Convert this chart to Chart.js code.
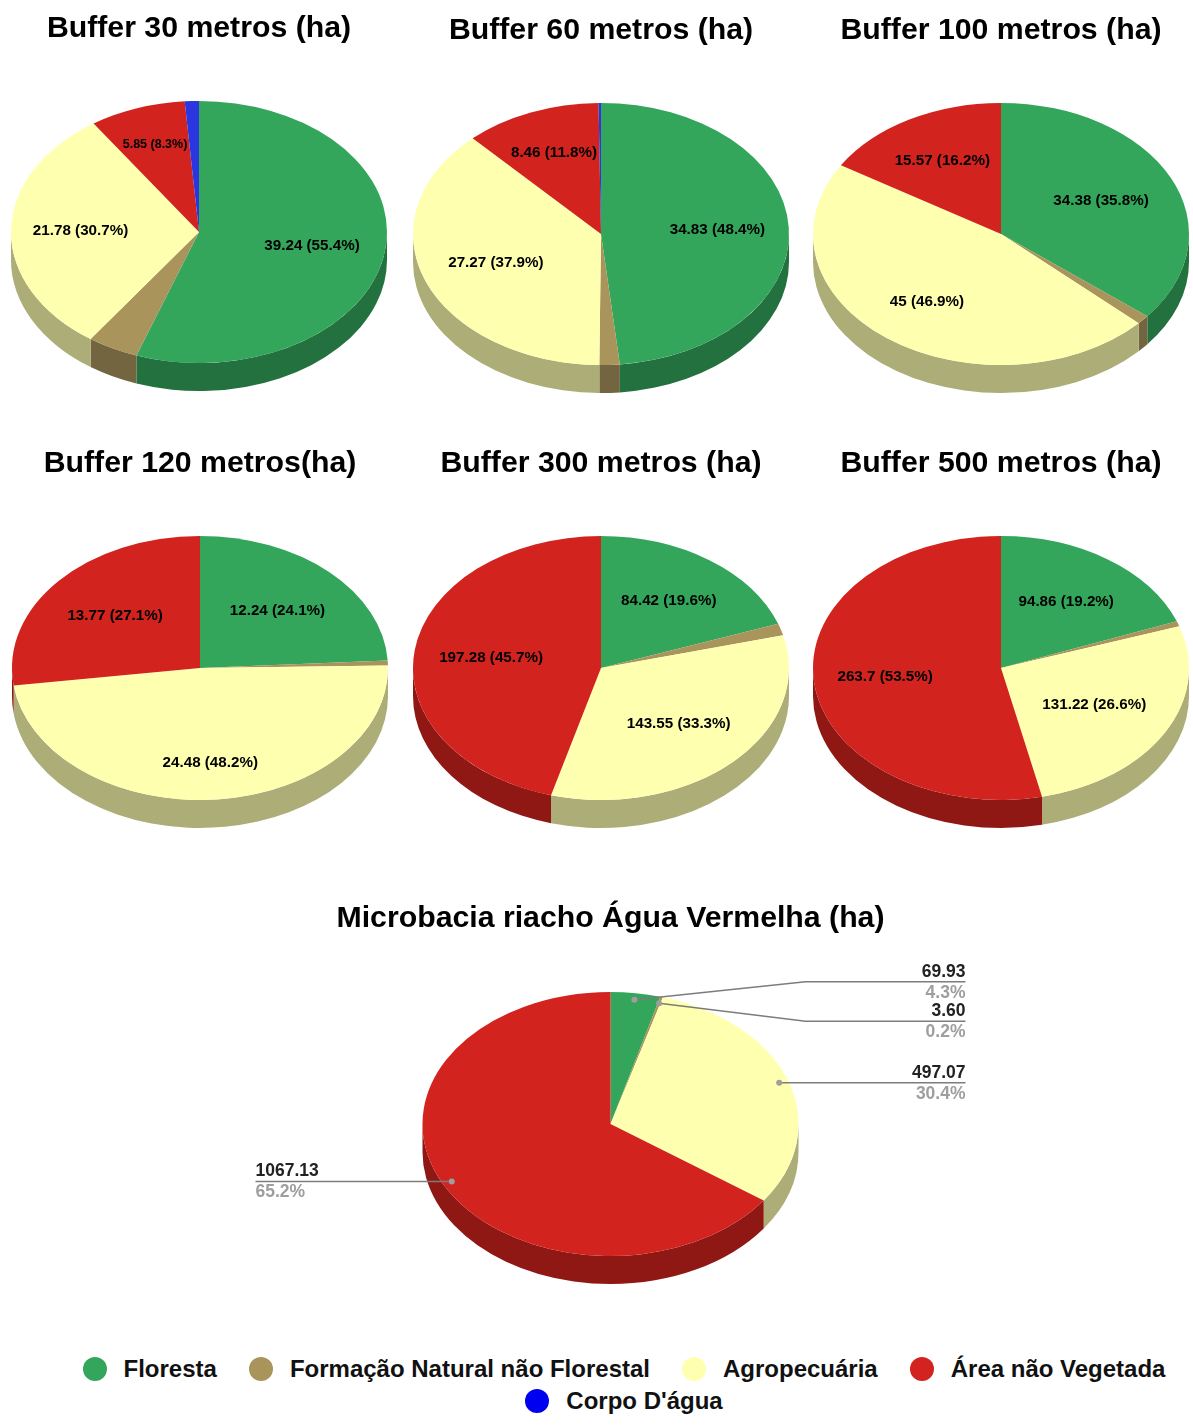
<!DOCTYPE html>
<html lang="pt">
<head>
<meta charset="utf-8">
<title>Uso do solo por buffer</title>
<script src="https://cdn.jsdelivr.net/npm/chart.js@4"></script>
<style>
    body { margin: 0; background: #fff; }
    #pagina { position: relative; width: 1193px; height: 1428px; overflow: hidden; }
    canvas { position: absolute; }
    #legenda {
        position: absolute; left: 55px; top: 1353px; width: 1138px;
        display: flex; flex-wrap: wrap; justify-content: center;
        font: bold 24px "Liberation Sans", Arial, sans-serif; color: #111; line-height: 32px;
    }
    #legenda div { display: flex; align-items: center; margin: 0 16px; }
    #legenda span { width: 24px; height: 24px; border-radius: 50%; margin-right: 17px; }
</style>
</head>
<body>
<div id="pagina">
    <div id="legenda"></div>
</div>
<script>
// ordem das fatias: Floresta, Formacao, Agropecuaria, Area nao Vegetada, Corpo d'agua
const categorias = ["Floresta", "Formação Natural não Florestal", "Agropecuária", "Área não Vegetada", "Corpo D'água"];
const cores = ["#34a65b", "#a9945c", "#ffffb0", "#d2231f", "#2a36e0"];
const corLegendaAgua = "#0000f0";

const buffer30 = [39.24, 3.1, 21.78, 5.85, 0.86];
const buffer60 = [34.83, 1.25, 27.27, 8.46, 0.15];
const buffer100 = [34.38, 1.08, 45, 15.57, 0];
const buffer120 = [12.24, 0.3, 24.48, 13.77, 0];
const buffer300 = [84.42, 6.25, 143.55, 197.28, 0];
const buffer500 = [94.86, 3.1, 131.22, 263.7, 0];
const microbacia = [69.93, 3.60, 497.07, 1067.13, 0];

const titulos = ["Buffer 30 metros (ha)", "Buffer 60 metros (ha)", "Buffer 100 metros (ha)",
    "Buffer 120 metros(ha)", "Buffer 300 metros (ha)", "Buffer 500 metros (ha)",
    "Microbacia riacho Água Vermelha (ha)"];
const series = [buffer30, buffer60, buffer100, buffer120, buffer300, buffer500, microbacia];

// centro de cada pizza, achatamento e altura do titulo na pagina
const centrosX = [199, 601, 1000.5, 200, 601, 1000.5, 610.5];
const centrosY = [232, 234, 234, 668, 668, 668, 1124];
const achatamentos = [0.697, 0.697, 0.697, 0.702, 0.702, 0.702, 0.702];
const titulosY = [27, 29, 29, 462, 462, 462, 917];

// distancia do rotulo ao centro, em fracao do raio, por fatia
const raiosRotulo = [
    [0.61, 0, 0.63, 0.71],
    [0.62, 0, 0.6, 0.67],
    [0.59, 0, 0.65, 0.64],
    [0.6, 0, 0.72, 0.6],
    [0.625, 0, 0.59, 0.59],
    [0.61, 0, 0.57, 0.62]
];

const RAIO = 188, ALTURA = 28;
const FONTE = '"Liberation Sans", Arial, sans-serif';

// deslocamento das chamadas do grafico da microbacia, por fatia
const chamadaDY = [-18, 18, 0, 0];

function escurecer(hex) {
    const n = parseInt(hex.slice(1), 16);
    const c = [n >> 16, (n >> 8) & 255, n & 255].map(v => Math.round(v * 0.68));
    return `rgb(${c[0]},${c[1]},${c[2]})`;
}

function rotulosInternos(ctx, fatias, valores, total, n) {
    fatias.forEach((arc, i) => {
        const pct = valores[i] / total * 100;
        if (pct < 5) return;
        const meio = (arc.startAngle + arc.endAngle) / 2;
        const fator = raiosRotulo[n][i];
        const x = arc.x + Math.cos(meio) * RAIO * fator;
        const y = arc.y + Math.sin(meio) * RAIO * fator * achatamentos[n];
        ctx.font = `bold ${pct < 10 ? 12.5 : 15.2}px ${FONTE}`;
        ctx.fillStyle = "#000";
        ctx.textAlign = "center";
        ctx.textBaseline = "middle";
        ctx.fillText(`${valores[i]} (${pct.toFixed(1)}%)`, x, y);
    });
}

function chamadas(ctx, fatias, valores, total, n) {
    fatias.forEach((arc, i) => {
        if (!valores[i]) return;
        const meio = (arc.startAngle + arc.endAngle) / 2;
        const x = arc.x + Math.cos(meio) * RAIO * 0.95;
        const y = arc.y + Math.sin(meio) * RAIO * 0.95 * achatamentos[n];
        const direita = Math.cos(meio) > 0;
        const yFim = y + chamadaDY[i];
        const xFim = direita ? arc.x + 355 : arc.x - 355;

        ctx.strokeStyle = "#7c7c7c";
        ctx.lineWidth = 1.5;
        ctx.beginPath();
        ctx.moveTo(x, y);
        if (chamadaDY[i]) ctx.lineTo(arc.x + 195, yFim);
        ctx.lineTo(xFim, yFim);
        ctx.stroke();

        ctx.fillStyle = "#9e9e9e";
        ctx.beginPath();
        ctx.arc(x, y, 3, 0, Math.PI * 2);
        ctx.fill();

        ctx.font = `bold 17.5px ${FONTE}`;
        ctx.textAlign = direita ? "right" : "left";
        ctx.textBaseline = "middle";
        ctx.fillStyle = "#222";
        ctx.fillText(valores[i].toFixed(2), xFim, yFim - 10);
        ctx.fillStyle = "#9e9e9e";
        ctx.fillText((valores[i] / total * 100).toFixed(1) + "%", xFim, yFim + 11);
    });
}

const pizza3d = {
    id: "pizza3d",
    beforeDatasetsDraw(chart, args, opts) {
        // parede lateral: so a metade da frente aparece
        const ctx = chart.ctx, k = achatamentos[opts.n];
        chart.getDatasetMeta(0).data.forEach((arc, i) => {
            const ini = Math.max(arc.startAngle, 0);
            const fim = Math.min(arc.endAngle, Math.PI);
            if (fim <= ini) return;
            const r = arc.outerRadius;
            ctx.beginPath();
            ctx.ellipse(arc.x, arc.y, r, r * k, 0, ini, fim);
            ctx.ellipse(arc.x, arc.y + ALTURA, r, r * k, 0, fim, ini, true);
            ctx.closePath();
            ctx.fillStyle = escurecer(cores[i]);
            ctx.fill();
        });
    },
    beforeDatasetDraw(chart, args, opts) {
        const ctx = chart.ctx, a = chart.chartArea;
        const cx = (a.left + a.right) / 2, cy = (a.top + a.bottom) / 2;
        ctx.save();
        ctx.translate(cx, cy);
        ctx.scale(1, achatamentos[opts.n]);
        ctx.translate(-cx, -cy);
    },
    afterDatasetDraw(chart) {
        chart.ctx.restore();
    },
    afterDatasetsDraw(chart, args, opts) {
        const valores = chart.data.datasets[0].data;
        const total = valores.reduce((s, v) => s + v, 0);
        const fatias = chart.getDatasetMeta(0).data;
        const desenhar = opts.n === 6 ? chamadas : rotulosInternos;
        desenhar(chart.ctx, fatias, valores, total, opts.n);
    }
};

function criarPizza(i) {
    const largura = i === 6 ? 1193 : 400;
    // titulo ocupa 48px no alto do canvas, a area do grafico fica centrada no resto
    const topo = titulosY[i] - 24;
    const altura = 2 * (centrosY[i] - topo) - 48;
    const canvas = document.createElement("canvas");
    canvas.width = largura;
    canvas.height = altura;
    canvas.style.left = (centrosX[i] - largura / 2) + "px";
    canvas.style.top = topo + "px";
    document.getElementById("pagina").appendChild(canvas);

    new Chart(canvas, {
        type: "pie",
        data: {
            labels: categorias,
            datasets: [{ data: series[i], backgroundColor: cores, borderWidth: 0 }]
        },
        options: {
            responsive: false,
            animation: false,
            radius: RAIO,
            layout: { padding: 0 },
            plugins: {
                legend: { display: false },
                tooltip: { enabled: false },
                title: {
                    display: true,
                    text: titulos[i],
                    color: "#000",
                    font: { family: FONTE, size: 30.25, weight: "bold", lineHeight: 1.2 },
                    padding: { top: 8, bottom: 3.7 }
                },
                pizza3d: { n: i }
            }
        },
        plugins: [pizza3d]
    });
}

series.forEach((s, i) => criarPizza(i));

categorias.forEach((nome, i) => {
    const item = document.createElement("div");
    const bola = document.createElement("span");
    bola.style.background = i === 4 ? corLegendaAgua : cores[i];
    item.appendChild(bola);
    item.appendChild(document.createTextNode(nome));
    document.getElementById("legenda").appendChild(item);
});
</script>
</body>
</html>
